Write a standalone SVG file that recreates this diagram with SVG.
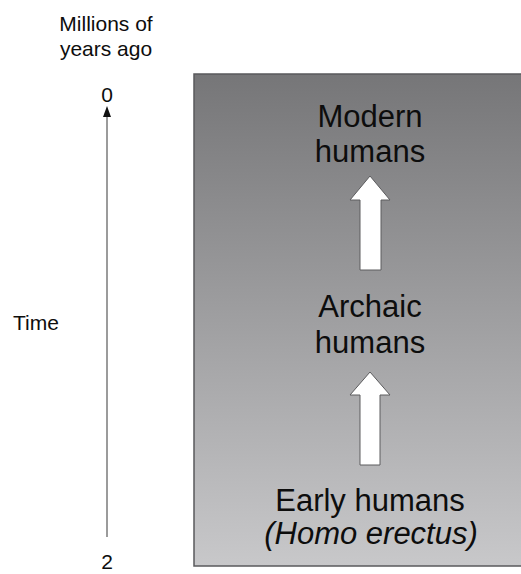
<svg xmlns="http://www.w3.org/2000/svg" width="521" height="574" viewBox="0 0 521 574">
  <style>
    .lbl { font-family: "Liberation Sans", Arial, sans-serif; fill: #0d0d0d; }
    .axis-lbl { font-size: 21px; }
    .stage { font-size: 31px; text-anchor: middle; }
    .up { fill: #ffffff; stroke: #5c5c5e; stroke-width: 1; stroke-linejoin: miter; }
  </style>
  <defs>
    <linearGradient id="panelFill" x1="0" y1="0" x2="0" y2="1">
      <stop offset="0" stop-color="#767678"/>
      <stop offset="1" stop-color="#c8c8ca"/>
    </linearGradient>
  </defs>

  <!-- time axis labels -->
  <g id="time-axis">
    <text class="lbl axis-lbl" x="106" y="31" text-anchor="middle">Millions of</text>
    <text class="lbl axis-lbl" x="106" y="56" text-anchor="middle">years ago</text>
    <text class="lbl axis-lbl" x="107" y="102" text-anchor="middle">0</text>
    <text class="lbl axis-lbl" x="107" y="569" text-anchor="middle">2</text>
    <text class="lbl axis-lbl" x="13" y="330">Time</text>
  </g>

  <!-- shaded panel -->
  <g id="panel">
    <rect x="194" y="74" width="335" height="492" fill="url(#panelFill)" stroke="#5a5a5c" stroke-width="1.5"/>
  </g>

  <g id="modern-humans">
    <text class="lbl stage" x="370" y="127">Modern</text>
    <text class="lbl stage" x="370" y="162">humans</text>
  </g>
  <g id="archaic-humans">
    <text class="lbl stage" x="370" y="317">Archaic</text>
    <text class="lbl stage" x="370" y="353">humans</text>
  </g>
  <g id="early-humans">
    <text class="lbl stage" x="370" y="511">Early humans</text>
    <text class="lbl stage" x="371" y="544" font-style="italic">(Homo erectus)</text>
  </g>

  <!-- connectors -->
  <g id="connectors">
    <line x1="107" y1="537" x2="107" y2="114" stroke="#7a7a7a" stroke-width="1.5"/>
    <path d="M107,106 L111,117 L103,117 Z" fill="#111"/>
    <path class="up" d="M370,176 L390,200 L381,200 L381,270 L360,270 L360,200 L350,200 Z"/>
    <path class="up" d="M370,372 L390,395 L380,395 L380,465 L360,465 L360,395 L350,395 Z"/>
  </g>
</svg>
